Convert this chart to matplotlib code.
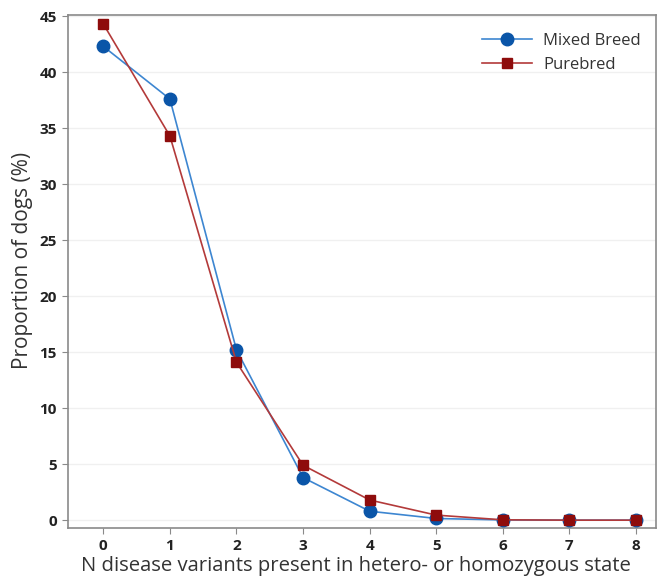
import matplotlib
matplotlib.use("Agg")
import matplotlib.pyplot as plt

plt.rcParams['font.family'] = ['Open Sans', 'DejaVu Sans']

n_variants = [0, 1, 2, 3, 4, 5, 6, 7, 8]
mixed_breed = [42.3, 37.6, 15.2, 3.8, 0.8, 0.15, 0.02, 0.0, 0.0]
purebred = [44.3, 34.3, 14.1, 4.9, 1.8, 0.45, 0.03, 0.0, 0.0]

fig = plt.figure(figsize=(6.7, 5.76), dpi=100)
ax = fig.add_axes([68/670, 48/576, 588/670, 513/576])

ax.plot(n_variants, mixed_breed, color="#3d86d1", linewidth=1.2, marker="o", markersize=9,
        markerfacecolor="#0a55a8", markeredgecolor="#0a55a8", label="Mixed Breed", zorder=3)
ax.plot(n_variants, purebred, color="#b33a3a", linewidth=1.2, marker="s", markersize=7,
        markerfacecolor="#8e0c0c", markeredgecolor="#8e0c0c", label="Purebred", zorder=4)

ax.set_xlim(-0.53, 8.3)
ax.set_ylim(-0.7, 45.1)
ax.set_xticks(n_variants)
ax.set_yticks(range(0, 46, 5))
ax.yaxis.grid(True, color="#f0f0f0", linewidth=1)
ax.set_axisbelow(True)

for s in ax.spines.values():
    s.set_color("#8a8a8a")
    s.set_linewidth(1.2)
ax.tick_params(colors="#8a8a8a", labelcolor="#222222", labelsize=11, length=4, pad=4)
for lbl in ax.get_xticklabels() + ax.get_yticklabels():
    lbl.set_fontweight("bold")

ax.set_xlabel("N disease variants present in hetero- or homozygous state", fontsize=14.6, color="#333333", labelpad=2)
ax.set_ylabel("Proportion of dogs (%)", fontsize=15, color="#333333", labelpad=5)
ax.xaxis.label.set_x(0.49)
ax.yaxis.label.set_y(0.522)

leg = ax.legend(loc="upper right", frameon=False, fontsize=12, handlelength=3, handletextpad=0.7,
                labelspacing=0.5, bbox_to_anchor=(1.0, 0.995))
for t in leg.get_texts():
    t.set_color("#333333")

fig.savefig("out.png", dpi=100, facecolor="white")
